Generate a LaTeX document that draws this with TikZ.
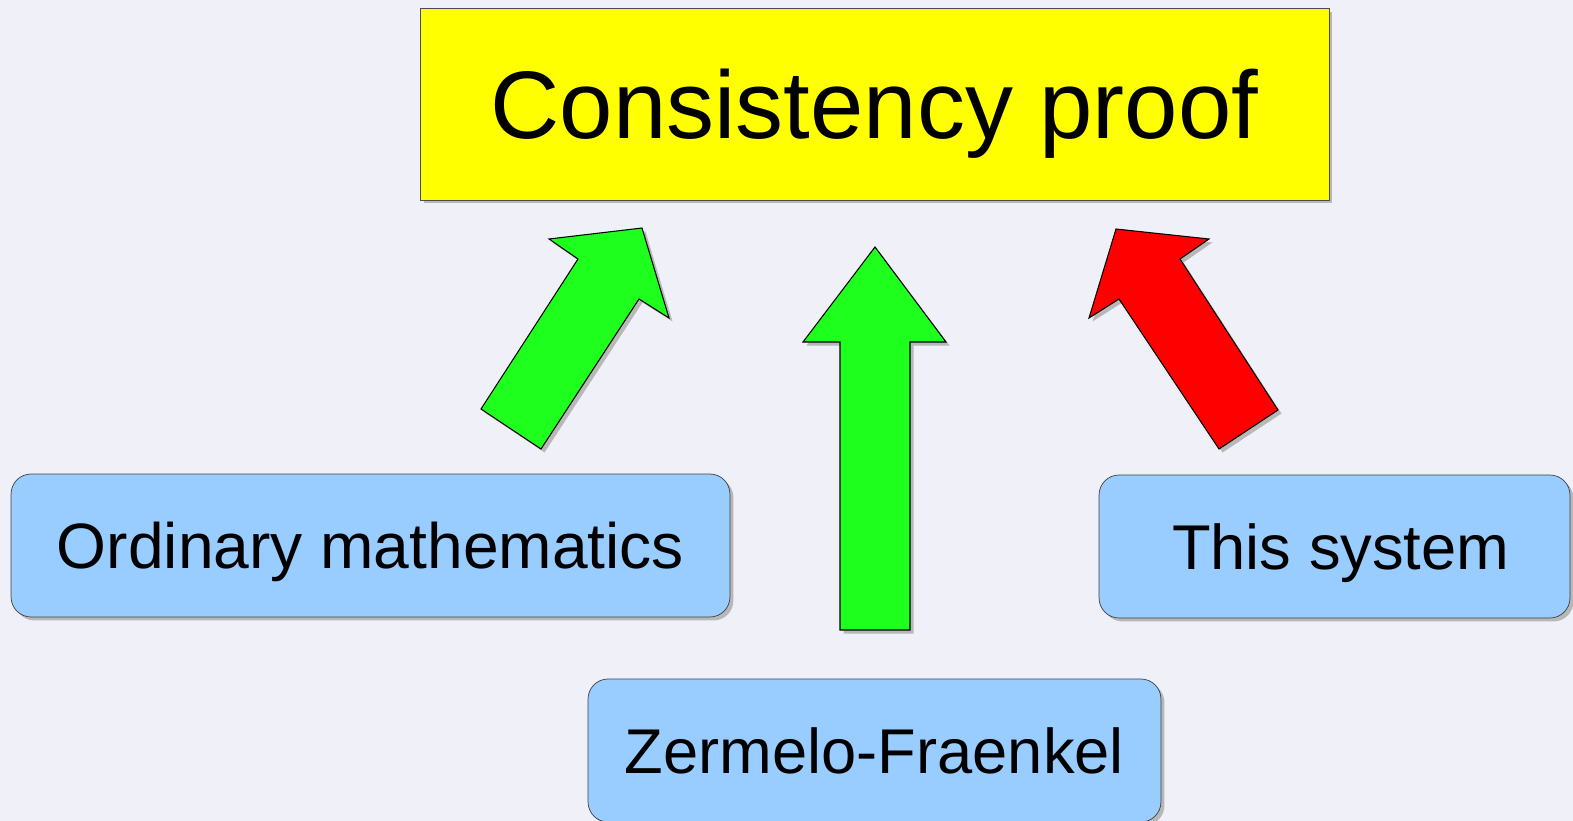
\documentclass[tikz,border=0pt]{standalone}
\usepackage{fontspec}
\setmainfont{Liberation Sans}
\usetikzlibrary{positioning,shadows}

\definecolor{pagebg}{HTML}{F0F0F8}
\definecolor{goalyellow}{HTML}{FFFF00}
\definecolor{theoryblue}{HTML}{99CCFF}
\definecolor{okgreen}{HTML}{1EFF1E}
\definecolor{badred}{HTML}{FF0000}

\begin{document}
\begin{tikzpicture}[
        x=0.02cm, y=-0.02cm,
        castshadow/.style={
            drop shadow={shadow xshift=0.07cm, shadow yshift=-0.07cm,
                fill=black!28, opacity=1}
        },
        goalbox/.style={
            rectangle,
            draw=black!70,
            fill=goalyellow,
            castshadow,
            minimum width=18.18cm,
            minimum height=3.84cm,
            text depth=0pt,
            font=\fontsize{54.6}{60}\selectfont
        },
        theorybox/.style={
            rectangle,
            rounded corners=0.4cm,
            draw=black!75,
            fill=theoryblue,
            castshadow,
            minimum height=2.86cm,
            text depth=0pt,
            font=\fontsize{36}{42}\selectfont
        },
        blockarrow/.style={
            draw=black,
            line width=0.6pt,
            line join=miter,
            castshadow
        }
    ]

    % Page
    \useasboundingbox (0,0) rectangle (1573,821);
    \fill[pagebg] (0,0) rectangle (1573,821);

    % Goal
    \node[goalbox] (goal) at (874.5,104) {Consistency proof};

    % Theories
    \node[theorybox, minimum width=14.38cm, font=\fontsize{36.5}{42}\selectfont] (ordinary) at (370.5,545.5) {Ordinary mathematics};
    \node[theorybox, minimum width=9.42cm] (thissys) at (1334.5,546.5) {\hspace{0.25cm}This system};
    \node[theorybox, minimum width=11.46cm] (zf) at (874.5,750.5) {Zermelo-Fraenkel};

    % Block arrows towards the goal
    \draw[blockarrow, fill=okgreen] (481,409) -- (541,449) -- (639,299) -- (669,318)
        -- (642,228) -- (549,239) -- (578,259) -- cycle;
    \draw[blockarrow, fill=okgreen] (840,630) -- (910,630) -- (910,342) -- (946,342)
        -- (875,247) -- (803,342) -- (840,342) -- cycle;
    \draw[blockarrow, fill=badred] (1219,449) -- (1278,410) -- (1180,259) -- (1209,239)
        -- (1116,229) -- (1089,318) -- (1119,299) -- cycle;

\end{tikzpicture}
\end{document}
